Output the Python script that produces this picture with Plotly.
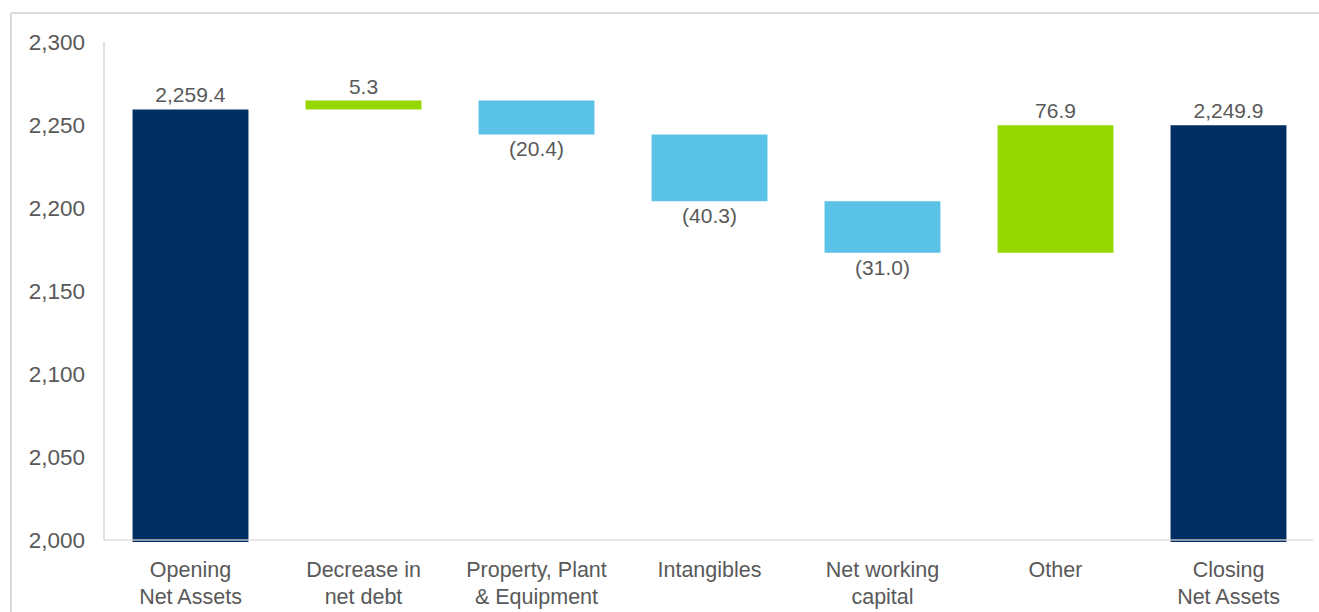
import plotly.graph_objects as go

categories = ["Opening<br>Net Assets", "Decrease in<br>net debt", "Property, Plant<br>& Equipment",
              "Intangibles", "Net working<br>capital", "Other", "Closing<br>Net Assets"]
measures = ["absolute", "relative", "relative", "relative", "relative", "relative", "total"]
values = [2259.4, 5.3, -20.4, -40.3, -31.0, 76.9, 2249.9]
y_ticks = [2000, 2050, 2100, 2150, 2200, 2250, 2300]

NAVY = "#002D62"
LBLUE = "#5BC2E7"
GREEN = "#97D700"
TXT = "#595959"
FRAME = "#D9D9D9"

def fmt(v):
    return f"({abs(v):,.1f})" if v < 0 else f"{v:,.1f}"

texts = [fmt(v) for v in values]

fig = go.Figure(go.Waterfall(
    x=categories, y=values, measure=measures,
    text=texts, textposition="outside", constraintext="none",
    textfont=dict(size=21, color=TXT, family="Liberation Sans, Arial"),
    increasing=dict(marker=dict(color=GREEN)),
    decreasing=dict(marker=dict(color=LBLUE)),
    totals=dict(marker=dict(color=NAVY)),
    connector=dict(visible=False),
    width=0.67, cliponaxis=False,
))

W, H = 1319, 612
L, R, T, B = 104, 4, 42, 70
pw, ph = W - L - R, H - T - B

def px_x(p):
    return (p - L) / pw

def px_y(p):
    return (H - B - p) / ph

shapes = [
    dict(type="line", xref="paper", yref="paper", x0=px_x(11), x1=px_x(1325), y0=px_y(13), y1=px_y(13),
         line=dict(color=FRAME, width=2)),
    dict(type="line", xref="paper", yref="paper", x0=px_x(11), x1=px_x(11), y0=px_y(13), y1=px_y(620),
         line=dict(color=FRAME, width=2)),
    dict(type="line", xref="paper", yref="paper", x0=0, x1=0, y0=px_y(540), y1=1,
         line=dict(color=FRAME, width=1.5)),
    dict(type="line", xref="paper", yref="y", x0=0, x1=px_x(1313), y0=2000, y1=2000,
         line=dict(color="rgba(217,217,217,0.85)", width=1.5), layer="above"),
]

fig.update_layout(
    width=W, height=H,
    margin=dict(l=L, r=R, t=T, b=B),
    paper_bgcolor="white", plot_bgcolor="white",
    font=dict(family="Liberation Sans, Arial", size=21, color=TXT),
    showlegend=False,
    shapes=shapes,
    xaxis=dict(showgrid=False, showline=False, ticks="", ticklabelstandoff=12,
               tickfont=dict(size=21.5, color=TXT)),
    yaxis=dict(range=[1998.8, 2300], tickvals=y_ticks, tickformat=",", showgrid=False,
               zeroline=False, showline=False, ticks="", ticklabelstandoff=18,
               tickfont=dict(size=22.5, color=TXT)),
)

fig.write_html("out.html")
